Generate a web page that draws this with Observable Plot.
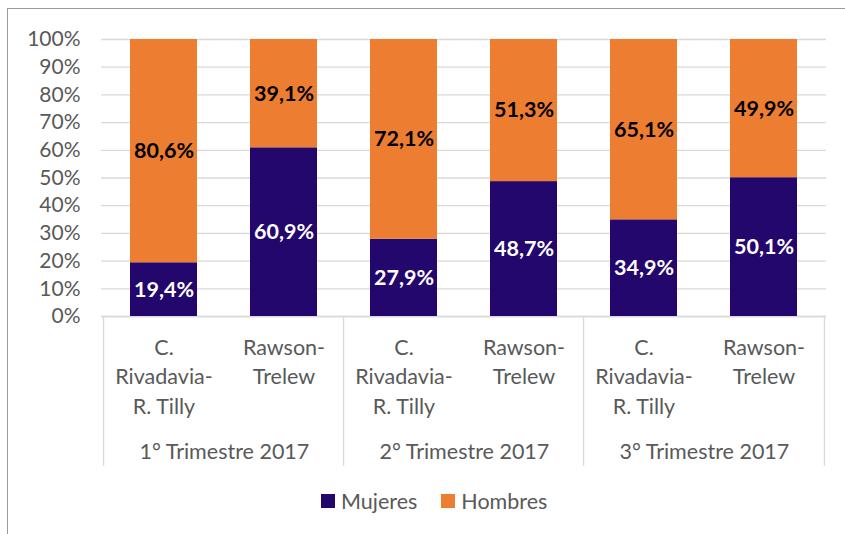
<!DOCTYPE html>
<html>
<head>
<meta charset="utf-8">
<script src="https://cdn.jsdelivr.net/npm/d3@7"></script>
<script src="https://cdn.jsdelivr.net/npm/@observablehq/plot@0.6"></script>
<style>
  body { margin: 0; background: #fff; font-family: Lato, sans-serif; }
  #wrap { position: relative; width: 845px; height: 534px; overflow: hidden; }
  #frame { position: absolute; left: 7px; top: 8px; width: 880px; height: 600px; border: 1.6px solid #9a9a9a; box-sizing: border-box; }
  #chart { position: absolute; left: 0; top: 0; }
  #legend { position: absolute; left: 321px; top: 488px; display: flex; align-items: center; font-size: 21.5px; color: #595959; font-family: Lato, sans-serif; }
  #legend .item { display: flex; align-items: center; margin-right: 24px; }
  #legend .sw { width: 14px; height: 14px; margin-right: 6px; }
</style>
</head>
<body>
<div id="wrap">
  <div id="frame"></div>
  <div id="chart"></div>
  <div id="legend"></div>
</div>
<script>
const trimestres = ["1° Trimestre 2017", "2° Trimestre 2017", "3° Trimestre 2017"];
const ciudades = ["C.\nRivadavia-\nR. Tilly", "Rawson-\nTrelew"];
const series = ["Mujeres", "Hombres"];
const colores = ["#24076d", "#ed7d31"];
const mujeres = [19.4, 60.9, 27.9, 48.7, 34.9, 50.1];
const hombres = [80.6, 39.1, 72.1, 51.3, 65.1, 49.9];
const yTicks = [0, 10, 20, 30, 40, 50, 60, 70, 80, 90, 100];

const W = 845, H = 480, ML = 101, MR = 19, MT = 39, MB = 164;
const keys = trimestres.flatMap((t, i) => ciudades.map((c, j) => `${i}-${j}`));
const step = (W - ML - MR) / keys.length;
const frameH = H - MT - MB;

const rows = [];
keys.forEach((k, i) => {
  rows.push({key: k, serie: series[0], value: mujeres[i]});
  rows.push({key: k, serie: series[1], value: hombres[i]});
});
const cityRows = keys.map((k, i) => ({key: k, ciudad: ciudades[i % ciudades.length]}));
const groupRows = trimestres.map((t, i) => ({key: keys[i * ciudades.length], t}));
const fmt = v => v.toFixed(1).replace(".", ",") + "%";

const sepStyle = {stroke: "#d9d9d9", strokeWidth: 1.3, insetTop: frameH, insetBottom: -150};

const chart = Plot.plot({
  width: W, height: H,
  marginLeft: ML, marginRight: MR, marginTop: MT, marginBottom: MB,
  style: {fontFamily: "Lato, sans-serif", fontSize: "21px", color: "#595959", background: "transparent"},
  x: {domain: keys, paddingInner: 0.44, paddingOuter: 0.22, axis: null},
  y: {domain: [0, 100], axis: null},
  color: {domain: series, range: colores},
  marks: [
    Plot.gridY(yTicks, {stroke: "#d9d9d9", strokeOpacity: 1, strokeWidth: 1.3}),
    Plot.axisY(yTicks, {tickSize: 0, tickPadding: 21, tickFormat: d => d + "%", fontSize: 21, fill: "#595959", label: null}),
    Plot.ruleY([0], {stroke: "#d9d9d9", strokeWidth: 1.3}),
    Plot.barY(rows, {x: "key", y: "value", fill: "serie"}),
    Plot.text(rows, Plot.stackY({x: "key", y: "value", text: d => d.serie === series[0] ? fmt(d.value) : "", fill: "white", fontWeight: "bold", fontSize: 21.5})),
    Plot.text(rows, Plot.stackY({x: "key", y: "value", text: d => d.serie === series[1] ? fmt(d.value) : "", fill: "black", fontWeight: "bold", fontSize: 21.5})),
    Plot.text(cityRows, {x: "key", text: "ciudad", frameAnchor: "bottom", lineAnchor: "top", dy: 17, lineHeight: 1.38, fill: "#595959", fontSize: 21.5}),
    Plot.text(groupRows, {x: "key", text: "t", dx: step / 2, frameAnchor: "bottom", lineAnchor: "top", dy: 127, fill: "#595959", fontSize: 21.5}),
    Plot.ruleX(groupRows, {x: "key", dx: -step / 2, ...sepStyle}),
    Plot.ruleX([keys[keys.length - 1]], {dx: step / 2, ...sepStyle})
  ]
});
document.getElementById("chart").appendChild(chart);

const legend = document.getElementById("legend");
series.forEach((s, i) => {
  const item = document.createElement("div");
  item.className = "item";
  const sw = document.createElement("div");
  sw.className = "sw";
  sw.style.background = colores[i];
  const lab = document.createElement("span");
  lab.textContent = s;
  item.appendChild(sw);
  item.appendChild(lab);
  legend.appendChild(item);
});
</script>
</body>
</html>
